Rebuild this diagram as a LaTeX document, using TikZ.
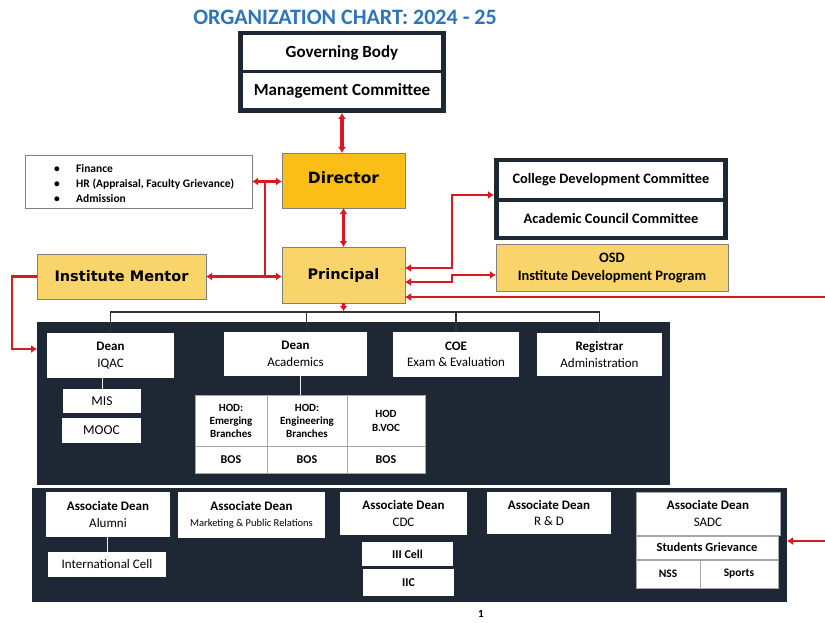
\documentclass[tikz,border=0pt]{standalone}
\usepackage{fontspec}
\setmainfont{Carlito}
\newfontfamily\dejavu{DejaVu Sans}
\usetikzlibrary{arrows.meta,calc}
\definecolor{navy}{RGB}{30,39,52}
\definecolor{gold}{RGB}{251,190,22}
\definecolor{lgold}{RGB}{249,212,106}
\definecolor{redl}{RGB}{218,24,34}
\definecolor{titleblue}{RGB}{46,117,182}
\definecolor{edge}{RGB}{128,128,128}
\definecolor{treec}{RGB}{50,50,50}
\newcommand\fs[2]{\fontsize{#1pt}{#2pt}\selectfont}
\newcommand\OBox[7]{\node[#6,minimum width={#4-#2},minimum height={#5-#3}] (#1) at ({(#2+#4)/2},{(#3+#5)/2}) {#7};}
\tikzset{rtip/.tip={Latex[length=6pt,width=8pt]}}
\begin{document}
\begin{tikzpicture}[x=1pt,y=-1pt,
  frame/.style={fill=navy, inner sep=0pt, outer sep=0pt},
  cell/.style={fill=white, inner sep=1pt, outer sep=0pt, align=center},
  gcell/.style={cell, draw=gray!70, line width=0.8pt},
  ybox/.style={fill=lgold, draw=edge, line width=0.9pt, inner sep=1pt, outer sep=0pt, align=center},
  gbox/.style={ybox, fill=gold},
  thick2/.style={draw=redl, line width=3.3pt},
  rline/.style={draw=redl, line width=2.6pt},
  thinred/.style={draw=redl, line width=1.6pt},
  tree/.style={draw=treec, line width=1.2pt},
  wline/.style={draw=white!85!gray, line width=1pt}
]
\useasboundingbox (0,0) rectangle (825,623);
\fill[white] (0,0) rectangle (825,623);

% title
\node[font=\bfseries\fs{22}{26}, text=titleblue, inner sep=0pt] (title) at (345,17) {ORGANIZATION CHART: 2024 - 25};

% governing body
\OBox{gbframe}{238}{31}{446}{113}{frame}{}
\OBox{gb}{243}{35}{441}{70}{cell,font=\bfseries\fs{17}{20}}{Governing Body}
\OBox{mc}{243}{73}{441}{108}{cell,font=\bfseries\fs{17}{20}}{Management Committee}

% director, principal, mentor
\OBox{dir}{282}{153}{405}{208}{gbox,font=\dejavu\bfseries\fs{15.5}{18}}{\raisebox{5pt}{Director}}
\OBox{prin}{282}{247}{405}{303}{ybox,font=\dejavu\bfseries\fs{14.5}{17}}{\raisebox{3pt}{Principal}}
\OBox{mentor}{37}{254}{206}{299}{ybox,font=\dejavu\bfseries\fs{14.5}{17}}{Institute Mentor}

% finance list
\OBox{fin}{25}{155}{252}{208}{cell,draw=edge,line width=0.8pt}{}
\node[anchor=west, inner sep=0pt, align=left, font=\bfseries\fs{11.5}{15}] (finlist) at (54,184)
  {\makebox[22pt][l]{\textbullet}Finance\\\makebox[22pt][l]{\textbullet}HR (Appraisal, Faculty Grievance)\\\makebox[22pt][l]{\textbullet}Admission};

% CDC / Academic council
\OBox{cdcframe}{494}{158}{728}{240}{frame}{}
\OBox{cdc}{499}{162}{723}{198}{cell,font=\bfseries\fs{14.4}{17}}{College Development Committee}
\OBox{acc}{499}{202}{723}{236}{cell,font=\bfseries\fs{14.4}{17}}{Academic Council Committee}
\OBox{osd}{496}{244}{728}{291}{ybox,font=\bfseries\fs{14.4}{18}}{OSD\\Institute Development Program}

% box 1
\OBox{box1}{37}{322}{670}{485}{frame}{}
\OBox{iqac}{47}{333}{174}{378}{cell,font=\fs{13}{16.5}}{{\bfseries Dean}\\IQAC}
\OBox{acad}{224}{332}{367}{376}{cell,font=\fs{13}{16.5}}{{\bfseries Dean}\\Academics}
\OBox{coe}{393}{332}{519}{377}{cell,font=\fs{13}{16.5}}{{\bfseries COE}\\Exam \& Evaluation}
\OBox{reg}{537}{333}{662}{376}{cell,font=\fs{13}{17}}{{\bfseries Registrar}\\Administration}
\OBox{mis}{63}{389}{141}{413}{cell,font=\fs{13.5}{16}}{MIS}
\OBox{mooc}{62}{418}{141}{443}{cell,font=\fs{13.5}{16}}{MOOC}
\OBox{hode}{195}{395}{267}{446}{gcell,font=\bfseries\fs{11}{13}}{HOD:\\Emerging\\Branches}
\OBox{hodg}{267}{395}{347}{446}{gcell,font=\bfseries\fs{11}{13}}{HOD:\\Engineering\\Branches}
\OBox{hodv}{347}{395}{425}{446}{gcell,font=\bfseries\fs{11}{14}}{HOD\\B.VOC}
\OBox{bose}{195}{446}{267}{473}{gcell,font=\bfseries\fs{12}{14}}{BOS}
\OBox{bosg}{267}{446}{347}{473}{gcell,font=\bfseries\fs{12}{14}}{BOS}
\OBox{bosv}{347}{446}{425}{473}{gcell,font=\bfseries\fs{12}{14}}{BOS}

% box 2
\OBox{box2}{32}{488}{787}{602}{frame}{}
\OBox{alum}{46}{492}{170}{537}{cell,font=\fs{13}{16.5}}{{\bfseries Associate Dean}\\Alumni}
\OBox{intl}{48}{552}{166}{577}{cell,font=\fs{13}{16}}{International Cell}
\OBox{mkt}{178}{492}{325}{538}{cell,font=\fs{13}{16}}{{\bfseries Associate Dean}\\{\fs{10.5}{13}Marketing \& Public Relations}}
\OBox{cdcad}{340}{492}{467}{535}{cell,font=\fs{13}{16.5}}{{\bfseries Associate Dean}\\CDC}
\OBox{iii}{362}{542}{453}{566}{cell,font=\bfseries\fs{12}{14}}{III Cell}
\OBox{iic}{363}{569}{454}{596}{cell,font=\bfseries\fs{12}{14}}{IIC}
\OBox{rnd}{487}{492}{611}{534}{cell,font=\fs{13}{16.5}}{{\bfseries Associate Dean}\\R \& D}
\OBox{sadc}{636}{492}{780}{535}{gcell,font=\fs{13}{17}}{{\bfseries Associate Dean}\\SADC}
\OBox{sg}{636}{536}{778}{559}{gcell,font=\bfseries\fs{12.5}{14}}{Students Grievance}
\OBox{nss}{636}{560}{700}{588}{gcell,font=\bfseries\fs{11.5}{14}}{NSS}
\OBox{sports}{700}{560}{778}{588}{gcell,font=\bfseries\fs{11.5}{14}}{Sports}

\node[font=\bfseries\fs{11}{13}, inner sep=0pt] (pg) at (481,614) {1};

% white connectors inside navy boxes
\draw[wline] (mis.north) -- (mis.north |- iqac.south);
\coordinate (acs) at ([xshift=5pt]acad.south);
\draw[wline] (acs) -- (acs |- hodg.north);
\draw[wline] (intl.north) -- (intl.north |- alum.south);

% tree
\draw[tree] (iqac.north) -- ++(0,-21) coordinate (t1) -- (t1 -| reg.north) -- (reg.north);
\coordinate (acn) at ([xshift=11pt]acad.north);
\draw[tree] (t1 -| acn) -- (acn);
\draw[tree] (t1 -| coe.north) -- (coe.north);

% red connectors
\draw[thick2, rtip-rtip] (gbframe.south) -- (gbframe.south |- dir.north);
\draw[thick2, rtip-rtip] (dir.south) -- (dir.south |- prin.north);
\draw[rline, rtip-rtip] (fin.east) -- (fin.east -| dir.west);
\coordinate (j1) at ($(fin.east)+(13,0)$);
\coordinate (j2) at (j1 |- mentor.east);
\draw[rline] (j1) -- (j2);
\draw[rline, rtip-rtip] (mentor.east) -- (mentor.east -| prin.west);
\coordinate (iqin) at (box1.west |- 0,349);
\draw[rline, -rtip] (mentor.west) -- ++(-25,0) |- (iqin);
\coordinate (pa) at (prin.east |- 0,268);
\coordinate (pb) at (prin.east |- 0,282);
\coordinate (pc) at (prin.east |- 0,297);
\draw[rline, rtip-rtip] (pa) -- (452,268) |- (cdcframe.west |- 0,195);
\draw[rline, rtip-rtip] (pb) -- (452,282) |- (osd.west |- 0,275);
\coordinate (re1) at (825,297);
\draw[thinred, -rtip] (re1) -- (pc);
\coordinate (re2) at (825,541);
\draw[thinred, -rtip] (re2) -- (box2.east |- 0,541);
\draw[rline, -{Latex[length=5pt,width=8pt]}] (prin.south) -- (prin.south |- 0,311);
\end{tikzpicture}
\end{document}
